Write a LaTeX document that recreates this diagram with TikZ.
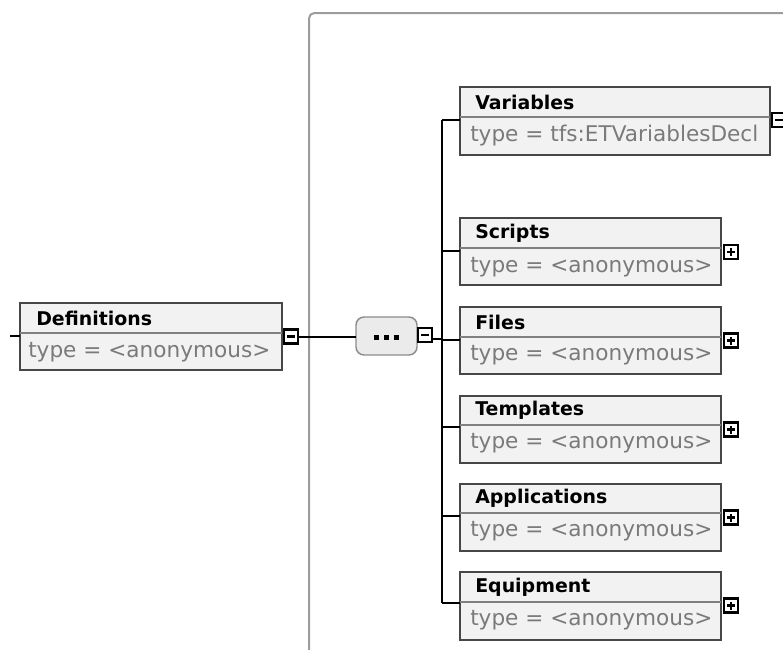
\documentclass[tikz,border=0pt]{standalone}
\usepackage{fontspec}
\setmainfont{DejaVu Sans}
\definecolor{boxborder}{HTML}{474747}
\definecolor{boxfill}{HTML}{F2F2F2}
\definecolor{divgrey}{HTML}{808080}
\definecolor{typegrey}{HTML}{7A7A7A}
\definecolor{framegrey}{HTML}{9C9C9C}
\definecolor{seqfill}{HTML}{EBEBEB}
\definecolor{seqborder}{HTML}{8C8C8C}
\begin{document}
\begin{tikzpicture}[x=0.75pt,y=-0.75pt,
  elbox/.style={draw=boxborder,fill=boxfill,line width=2.2pt,inner sep=0pt,outer sep=0pt,anchor=north west},
  divline/.style={draw=divgrey,line width=1.1pt},
  titletext/.style={anchor=west,inner sep=0pt,font=\fontsize{14.2pt}{16pt}\bfseries\selectfont,text=black},
  typetext/.style={anchor=west,inner sep=0pt,font=\fontsize{16.2pt}{18pt}\selectfont,text=typegrey},
  conn/.style={draw=black,line width=1.5pt},
  frameline/.style={draw=framegrey,line width=1.5pt,rounded corners=4pt},
  expbox/.style={draw=black,fill=white,line width=1.6pt,minimum size=10.5pt,inner sep=0pt,outer sep=0pt},
  minusbox/.style={expbox,path picture={\draw[line width=1.6pt] ([xshift=-3pt]path picture bounding box.center) -- ([xshift=3pt]path picture bounding box.center);}},
  plusbox/.style={expbox,path picture={\draw[line width=1.6pt] ([xshift=-3pt]path picture bounding box.center) -- ([xshift=3pt]path picture bounding box.center);
     \draw[line width=1.6pt] ([yshift=-3pt]path picture bounding box.center) -- ([yshift=3pt]path picture bounding box.center);}},
  seqbox/.style={draw=seqborder,fill=seqfill,line width=1.1pt,rounded corners=6pt,minimum width=45.75pt,minimum height=28.5pt,inner sep=0pt,outer sep=0pt,anchor=north west}
]
\useasboundingbox (0,0) rectangle (783,650);
\begin{scope}
\clip (0,0) rectangle (783,650);

% container frame
\draw[frameline] (309,700) -- (309,13) -- (820,13);

% Definitions
\node[elbox,minimum width=196.5pt,minimum height=50.25pt] (defs) at (20,303) {};
\draw[divline] (20,333) -- (282,333);
\node[titletext] (defs-t) at (36,318) {Definitions};
\node[typetext] (defs-y) at (28,352) {type = <anonymous>};
\coordinate (stub) at (10,336);
\draw[conn] (stub) -- (stub -| defs.west);
\node[minusbox] (defs-m) at (291,336.5) {};

% sequence compositor
\node[seqbox] (seq) at (356,317) {};
\fill[black] (374,334.5) rectangle (379,339.5);
\fill[black] (384,334.5) rectangle (389,339.5);
\fill[black] (394,334.5) rectangle (399,339.5);
\node[minusbox] (seq-m) at (425,335) {};
\draw[conn] (defs-m.east) -- (defs-m.east -| seq.west);

% bus
\coordinate (jv) at (442,120);
\coordinate (js) at (442,251);
\coordinate (jf) at (442,340);
\coordinate (jt) at (442,427);
\coordinate (ja) at (442,516);
\coordinate (je) at (442,603);
\coordinate (jseq) at (442,339);
\draw[conn] (seq-m.east |- jseq) -- (jseq);
\draw[conn] (jv) -- (je);

% Variables
\node[elbox,minimum width=232.5pt,minimum height=51pt] (vars) at (460,87) {};
\draw[divline] (460,117) -- (770,117);
\node[titletext] (vars-t) at (475,102) {Variables};
\node[typetext] (vars-y) at (470,136) {type = tfs:ETVariablesDecl};
\node[minusbox] (vars-m) at (779,120) {};
\draw[conn] (jv) -- (jv -| vars.west);

% Scripts
\node[elbox,minimum width=195.75pt,minimum height=50.25pt] (scr) at (460,218) {};
\draw[divline] (460,248) -- (721,248);
\node[titletext] (scr-t) at (475,233) {Scripts};
\node[typetext] (scr-y) at (470,267) {type = <anonymous>};
\node[plusbox] (scr-p) at (731,252) {};
\draw[conn] (js) -- (js -| scr.west);

% Files
\node[elbox,minimum width=195.75pt,minimum height=50.25pt] (fil) at (460,307) {};
\draw[divline] (460,337) -- (721,337);
\node[titletext] (fil-t) at (475,322) {Files};
\node[typetext] (fil-y) at (470,355) {type = <anonymous>};
\node[plusbox] (fil-p) at (731,340.5) {};
\draw[conn] (jf) -- (jf -| fil.west);

% Templates
\node[elbox,minimum width=195.75pt,minimum height=50.25pt] (tem) at (460,396) {};
\draw[divline] (460,425) -- (721,425);
\node[titletext] (tem-t) at (475,410) {Templates};
\node[typetext] (tem-y) at (470,443) {type = <anonymous>};
\node[plusbox] (tem-p) at (731,429.5) {};
\draw[conn] (jt) -- (jt -| tem.west);

% Applications
\node[elbox,minimum width=195.75pt,minimum height=50.25pt] (app) at (460,484) {};
\draw[divline] (460,513) -- (721,513);
\node[titletext] (app-t) at (475,498) {Applications};
\node[typetext] (app-y) at (470,531) {type = <anonymous>};
\node[plusbox] (app-p) at (731,517.5) {};
\draw[conn] (ja) -- (ja -| app.west);

% Equipment
\node[elbox,minimum width=195.75pt,minimum height=51pt] (equ) at (460,572) {};
\draw[divline] (460,602) -- (721,602);
\node[titletext] (equ-t) at (475,587) {Equipment};
\node[typetext] (equ-y) at (470,620) {type = <anonymous>};
\node[plusbox] (equ-p) at (731,605.5) {};
\draw[conn] (je) -- (je -| equ.west);
\end{scope}
\end{tikzpicture}
\end{document}
